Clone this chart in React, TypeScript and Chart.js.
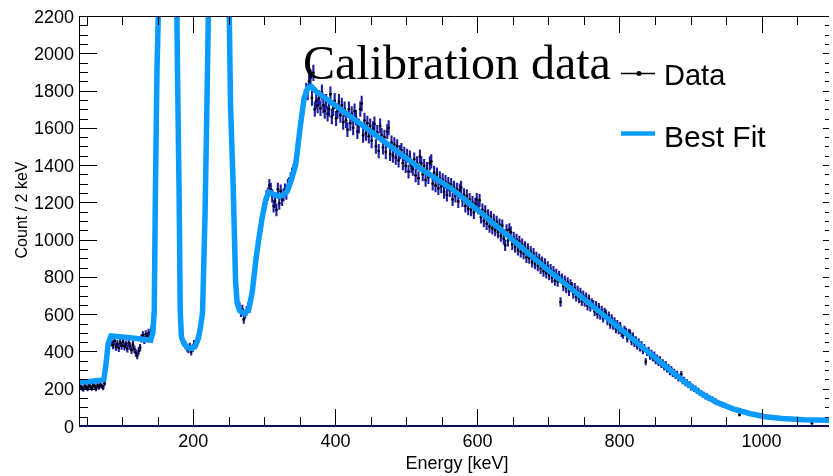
import React, { useEffect, useRef } from "react";
import { Chart, registerables } from "chart.js";

Chart.register(...registerables);

// ---------- data ----------
const fitEnergy = [
  39, 50, 70, 74, 77, 80, 84, 100, 120, 140, 143, 145, 146.5, 148.8, 155, 158, 164, 170, 175,
  177.6, 180, 181.5, 183.2, 187, 192, 198, 203, 207, 210, 212.9, 216.4, 218.5, 224, 229, 235,
  242, 248, 252.4, 256, 258, 259.4, 261.6, 265, 272, 278, 283, 288, 292, 297, 302, 306, 312,
  320, 326, 332, 338, 344, 350, 356, 361, 366, 373, 400, 450, 516, 563, 609, 656, 703, 749,
  799, 843, 889, 915, 936, 960, 983, 1005, 1029, 1060, 1095,
];
const fitCounts = [
  236, 238, 245, 250, 330, 440, 483, 477, 469, 460, 500, 620, 1230, 1909, 2900, 4700, 5300,
  4700, 2900, 1928, 1230, 620, 478, 440, 420, 416, 430, 470, 530, 605, 1122, 1579, 2900, 4200,
  4600, 4200, 2900, 1713, 1302, 1000, 782, 660, 620, 602, 625, 720, 890, 1000, 1120, 1215,
  1255, 1245, 1232, 1238, 1258, 1320, 1400, 1590, 1760, 1812, 1822, 1795, 1720, 1580, 1391,
  1275, 1131, 979, 825, 685, 528, 389, 245, 175, 129, 92, 67, 50, 40, 34, 31,
];

// bin centres (2 keV bins)
const dataEnergy = [
  41, 43, 45, 47, 49, 51, 53, 55, 57, 59, 61, 63, 65, 67, 69, 71, 73, 75, 77, 79,
  81, 83, 85, 87, 89, 91, 93, 95, 97, 99, 101, 103, 105, 107, 109, 111, 113, 115, 117, 119,
  121, 123, 125, 127, 129, 131, 133, 135, 137, 139, 141, 143, 145, 147, 149, 151, 153, 155, 157, 159,
  161, 163, 165, 167, 169, 171, 173, 175, 177, 179, 181, 183, 185, 187, 189, 191, 193, 195, 197, 199,
  201, 203, 205, 207, 209, 211, 213, 215, 217, 219, 221, 223, 225, 227, 229, 231, 233, 235, 237, 239,
  241, 243, 245, 247, 249, 251, 253, 255, 257, 259, 261, 263, 265, 267, 269, 271, 273, 275, 277, 279,
  281, 283, 285, 287, 289, 291, 293, 295, 297, 299, 301, 303, 305, 307, 309, 311, 313, 315, 317, 319,
  321, 323, 325, 327, 329, 331, 333, 335, 337, 339, 341, 343, 345, 347, 349, 351, 353, 355, 357, 359,
  361, 363, 365, 367, 369, 371, 373, 375, 377, 379, 381, 383, 385, 387, 389, 391, 393, 395, 397, 399,
  401, 403, 405, 407, 409, 411, 413, 415, 417, 419, 421, 423, 425, 427, 429, 431, 433, 435, 437, 439,
  441, 443, 445, 447, 449, 451, 453, 455, 457, 459, 461, 463, 465, 467, 469, 471, 473, 475, 477, 479,
  481, 483, 485, 487, 489, 491, 493, 495, 497, 499, 501, 503, 505, 507, 509, 511, 513, 515, 517, 519,
  521, 523, 525, 527, 529, 531, 533, 535, 537, 539, 541, 543, 545, 547, 549, 551, 553, 555, 557, 559,
  561, 563, 565, 567, 569, 571, 573, 575, 577, 579, 581, 583, 585, 587, 589, 591, 593, 595, 597, 599,
  601, 603, 605, 607, 609, 611, 613, 615, 617, 619, 621, 623, 625, 627, 629, 631, 633, 635, 637, 639,
  641, 643, 645, 647, 649, 651, 653, 655, 657, 659, 661, 663, 665, 667, 669, 671, 673, 675, 677, 679,
  681, 683, 685, 687, 689, 691, 693, 695, 697, 699, 701, 703, 705, 707, 709, 711, 713, 715, 717, 719,
  721, 723, 725, 727, 729, 731, 733, 735, 737, 739, 741, 743, 745, 747, 749, 751, 753, 755, 757, 759,
  761, 763, 765, 767, 769, 771, 773, 775, 777, 779, 781, 783, 785, 787, 789, 791, 793, 795, 797, 799,
  801, 803, 805, 807, 809, 811, 813, 815, 817, 819, 821, 823, 825, 827, 829, 831, 833, 835, 837, 839,
  841, 843, 845, 847, 849, 851, 853, 855, 857, 859, 861, 863, 865, 867, 869, 871, 873, 875, 877, 879,
  881, 883, 885, 887, 889, 891, 893, 895, 897, 899, 901, 903, 905, 907, 909, 911, 913, 915, 917, 919,
  921, 923, 925, 927, 929, 931, 933, 935, 937, 939, 941, 943, 945, 947, 949, 951, 953, 955, 957, 959,
  961, 963, 965, 967, 969, 971, 973, 975, 977, 979, 981, 983, 985, 987, 989, 991, 993, 995, 997, 999,
  1001, 1003, 1005, 1007, 1009, 1011, 1013, 1015, 1017, 1019, 1021, 1023, 1025, 1027, 1029, 1031, 1033, 1035, 1037, 1039,
  1041, 1043, 1045, 1047, 1049, 1051, 1053, 1055, 1057, 1059, 1061, 1063, 1065, 1067, 1069, 1071, 1073, 1075, 1077, 1079,
  1081, 1083, 1085, 1087, 1089, 1091, 1093, 1095,
];
const dataCounts = [
  // 41-75
  212, 205, 198, 215, 208, 200, 219, 210, 204, 222, 213, 201, 217, 209, 220, 214, 206, 228,
  // 77-83
  300, 390, 440, 455,
  // 85-141
  448, 432, 455, 425, 440, 418, 447, 430, 452, 426, 438, 415, 444, 429, 407, 436, 412, 392, 378,
  402, 420, 470, 486, 462, 492, 478, 500, 488, 515,
  // 143-181
  560, 720, 1100, 1750, 2500, 3200, 3900, 4500, 4900, 5150, 5300, 5250, 5050, 4750, 4300, 3700,
  2900, 2100, 1400, 760,
  // 183-213
  520, 470, 445, 432, 420, 410, 426, 398, 418, 440, 432, 460, 475, 520, 590, 680,
  // 215-257
  900, 1300, 1900, 2500, 3100, 3600, 4000, 4300, 4500, 4600, 4620, 4550, 4400, 4200, 3900, 3500,
  3000, 2400, 1900, 1600, 1350, 1100,
  // 259-283
  760, 690, 655, 640, 610, 625, 572, 600, 618, 640, 632, 690, 720,
  // 285-309
  790, 860, 905, 980, 1010, 1075, 1110, 1150, 1190, 1230, 1245, 1290, 1270,
  // 311-333
  1235, 1180, 1205, 1160, 1270, 1195, 1260, 1215, 1240, 1265, 1250, 1290,
  // 335-363
  1300, 1325, 1350, 1370, 1395, 1440, 1490, 1560, 1620, 1680, 1720, 1765, 1800, 1790, 1850,
  // 365-1095
  1870, 1760, 1895, 1700, 1745, 1720, 1760, 1705, 1790, 1720,
  1690, 1740, 1675, 1700, 1780, 1660, 1705, 1745, 1650, 1690,
  1740, 1668, 1720, 1630, 1700, 1640, 1590, 1700, 1625, 1675,
  1600, 1690, 1655, 1580, 1610, 1700, 1730, 1560, 1640, 1570,
  1625, 1555, 1610, 1530, 1595, 1620, 1500, 1575, 1475, 1610,
  1560, 1495, 1550, 1470, 1580, 1600, 1460, 1520, 1450, 1510,
  1440, 1500, 1425, 1470, 1480, 1410, 1460, 1395, 1450, 1365,
  1440, 1395, 1380, 1430, 1345, 1410, 1330, 1445, 1410, 1350,
  1395, 1320, 1380, 1335, 1410, 1420, 1300, 1360, 1290, 1350,
  1275, 1330, 1285, 1320, 1255, 1310, 1240, 1300, 1265, 1295,
  1215, 1280, 1235, 1270, 1205, 1265, 1280, 1210, 1240, 1180,
  1235, 1165, 1215, 1160, 1200, 1145, 1190, 1215, 1170, 1210,
  1120, 1160, 1100, 1150, 1085, 1130, 1070, 1120, 1060, 1105,
  1050, 1095, 1040, 1080, 1020, 1075, 1005, 970, 1050, 995,
  1055, 1040, 975, 1010, 960, 1000, 945, 990, 935, 975,
  925, 960, 905, 950, 900, 935, 880, 925, 870, 905,
  860, 895, 845, 880, 830, 870, 820, 855, 810, 840,
  795, 830, 780, 815, 775, 805, 665, 790, 750, 780,
  740, 770, 725, 760, 745, 710, 740, 695, 725, 685,
  715, 670, 700, 665, 690, 645, 680, 640, 660, 650,
  615, 645, 600, 635, 595, 620, 580, 610, 600, 565,
  590, 545, 575, 540, 560, 520, 545, 515, 535, 500,
  490, 515, 505, 470, 500, 495, 455, 480, 445, 460,
  430, 450, 420, 435, 405, 420, 345, 395, 405, 375,
  390, 365, 380, 350, 365, 340, 355, 330, 340, 315,
  330, 305, 315, 290, 305, 280, 290, 268, 280, 255,
  262, 278, 240, 248, 228, 236, 218, 225, 205, 212,
  196, 203, 186, 192, 175, 180, 166, 171, 155, 163,
  148, 152, 140, 146, 130, 138, 122, 128, 117, 122,
  110, 115, 105, 108, 99, 103, 92, 96, 87, 92,
  83, 88, 60, 78, 75, 79, 70, 74, 66, 69,
  62, 66, 60, 63, 57, 60, 54, 57, 51, 54,
  47, 51, 45, 49, 43, 46, 41, 44, 39, 42,
  38, 41, 37, 39, 36, 38, 35, 37, 34, 36,
  33, 35, 32, 34, 31, 33, 30, 32, 29, 31,
  28, 30, 27, 14, 29, 27, 30, 28, 29, 27,
  30, 28, 29, 27, 30, 29,
];

const xMajorTicks = [200, 400, 600, 800, 1000];
const xMinorTicks = [50, 100, 150, 250, 300, 350, 450, 500, 550, 650, 700, 750, 850, 900, 950, 1050];
const yMajorTicks = [0, 200, 400, 600, 800, 1000, 1200, 1400, 1600, 1800, 2000, 2200];
const yMinorTicks = [
  50, 100, 150, 250, 300, 350, 450, 500, 550, 650, 700, 750, 850, 900, 950, 1050, 1100, 1150,
  1250, 1300, 1350, 1450, 1500, 1550, 1650, 1700, 1750, 1850, 1900, 1950, 2050, 2100, 2150,
];

const titleText = "Calibration data";
const xTitle = "Energy [keV]";
const yTitle = "Count / 2 keV";
const legendLabels = ["Data", "Best Fit"];

const FIT_COLOR = "#0a9bff";
const ERR_COLOR = "#1e1ea2";
const SANS = '"Liberation Sans", Arial, sans-serif';
const SERIF = '"Liberation Serif", "Times New Roman", serif';

const errorBarPlugin = {
  id: "errorBars",
  beforeDatasetDraw(chart: any, args: any) {
    if (args.index !== 1) return;
    const { ctx, chartArea } = chart;
    const xs = chart.scales.x;
    const ys = chart.scales.y;
    ctx.save();
    ctx.beginPath();
    ctx.rect(chartArea.left, chartArea.top, chartArea.right - chartArea.left, chartArea.bottom - chartArea.top);
    ctx.clip();
    ctx.strokeStyle = ERR_COLOR;
    ctx.lineWidth = 2.1;
    ctx.beginPath();
    for (let i = 0; i < dataEnergy.length; i++) {
      const v = dataCounts[i];
      const e = Math.sqrt(v);
      const px = xs.getPixelForValue(dataEnergy[i]);
      ctx.moveTo(px, ys.getPixelForValue(v - e));
      ctx.lineTo(px, ys.getPixelForValue(v + e));
    }
    ctx.stroke();
    ctx.restore();
  },
};

const framePlugin = {
  id: "rootFrame",
  afterDraw(chart: any) {
    const { ctx, chartArea } = chart;
    const { left, top, right, bottom } = chartArea;
    const xs = chart.scales.x;
    const ys = chart.scales.y;
    ctx.save();
    ctx.strokeStyle = "#000";
    ctx.lineWidth = 1;
    ctx.beginPath();
    ctx.moveTo(left + 0.5, bottom);
    ctx.lineTo(left + 0.5, top + 0.5);
    ctx.lineTo(right, top + 0.5);
    ctx.stroke();
    ctx.beginPath();
    const xt = (vals: number[], len: number) => {
      for (const v of vals) {
        const px = Math.round(xs.getPixelForValue(v)) + 0.5;
        ctx.moveTo(px, bottom);
        ctx.lineTo(px, bottom - len);
        ctx.moveTo(px, top);
        ctx.lineTo(px, top + len);
      }
    };
    xt(xMajorTicks, 17);
    xt(xMinorTicks, 9);
    const yt = (vals: number[], len: number, rlen: number) => {
      for (const v of vals) {
        const py = Math.round(ys.getPixelForValue(v)) + 0.5;
        ctx.moveTo(left, py);
        ctx.lineTo(left + len, py);
        ctx.moveTo(right, py);
        ctx.lineTo(right - rlen, py);
      }
    };
    yt(yMajorTicks, 18, 6);
    yt(yMinorTicks, 9, 4);
    ctx.stroke();
    ctx.strokeStyle = "#0c0c55";
    ctx.lineWidth = 2;
    ctx.beginPath();
    ctx.moveTo(left, bottom);
    ctx.lineTo(right, bottom);
    ctx.stroke();

    ctx.fillStyle = "#000";
    ctx.font = `18px ${SANS}`;
    ctx.textBaseline = "alphabetic";
    ctx.textAlign = "center";
    for (const v of xMajorTicks) {
      ctx.fillText(String(v), xs.getPixelForValue(v), 447);
    }
    ctx.textAlign = "right";
    for (const v of yMajorTicks) {
      ctx.fillText(String(v), 74, ys.getPixelForValue(v) + 6.5);
    }
    ctx.textAlign = "center";
    ctx.font = `18px ${SANS}`;
    ctx.fillText(xTitle, 457, 469);
    ctx.save();
    ctx.translate(27, 210);
    ctx.rotate(-Math.PI / 2);
    ctx.font = `16px ${SANS}`;
    ctx.fillText(yTitle, 0, 0);
    ctx.restore();

    ctx.textAlign = "left";
    ctx.font = `48px ${SERIF}`;
    ctx.fillText(titleText, 303, 79);

    ctx.strokeStyle = "#000";
    ctx.lineWidth = 1.5;
    ctx.beginPath();
    ctx.moveTo(621, 73.5);
    ctx.lineTo(655, 73.5);
    ctx.stroke();
    ctx.beginPath();
    ctx.arc(639, 73.5, 2.5, 0, Math.PI * 2);
    ctx.fill();
    ctx.strokeStyle = FIT_COLOR;
    ctx.lineWidth = 4.5;
    ctx.beginPath();
    ctx.moveTo(621, 133.5);
    ctx.lineTo(655, 133.5);
    ctx.stroke();
    ctx.fillStyle = "#000";
    ctx.font = `29px ${SANS}`;
    ctx.fillText(legendLabels[0], 664, 85);
    ctx.font = `30px ${SANS}`;
    ctx.fillText(legendLabels[1], 664, 146.5);
    ctx.restore();
  },
};

export default function App() {
  const ref = useRef<HTMLCanvasElement | null>(null);
  useEffect(() => {
    if (!ref.current) return;
    const fitPts = fitEnergy.map((e, i) => ({ x: e, y: fitCounts[i] }));
    const dataPts = dataEnergy.map((e, i) => ({ x: e, y: dataCounts[i] }));
    const chart = new Chart(ref.current, {
      type: "line",
      data: {
        datasets: [
          {
            label: legendLabels[1],
            data: fitPts,
            borderColor: FIT_COLOR,
            borderWidth: 5.5,
            pointRadius: 0,
            tension: 0,
            fill: false,
            order: 0,
          },
          {
            label: legendLabels[0],
            data: dataPts,
            showLine: false,
            pointRadius: 1.4,
            pointBackgroundColor: "#000",
            pointBorderWidth: 0,
            order: 1,
          },
        ],
      },
      options: {
        responsive: false,
        animation: false,
        devicePixelRatio: 1,
        layout: { padding: { left: 79, top: 16, right: 0, bottom: 50 } },
        scales: {
          x: { type: "linear", min: 39, max: 1095, display: false },
          y: { type: "linear", min: 0, max: 2200, display: false },
        },
        plugins: {
          legend: { display: false },
          tooltip: { enabled: false },
        },
      },
      plugins: [errorBarPlugin, framePlugin],
    });
    return () => chart.destroy();
  }, []);
  return (
    <div style={{ position: "absolute", left: 0, top: 0, width: 833, height: 476, background: "#fff" }}>
      <canvas ref={ref} width={833} height={476} />
    </div>
  );
}
